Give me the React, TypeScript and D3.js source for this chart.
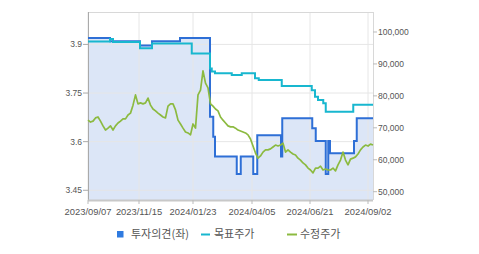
import React from "react";
import * as d3 from "d3";

// sample index axis (0..114)
const N_LAST = 114;
const X_TICK_LABELS = ["2023/09/07", "2023/11/15", "2024/01/23", "2024/04/05", "2024/06/21", "2024/09/02"];
const X_TICK_POS = [0, 20.4, 42, 65.6, 88.8, 112];

const LEFT_TICKS = [3.45, 3.6, 3.75, 3.9];
const RIGHT_TICKS = [50000, 60000, 70000, 80000, 90000, 100000];

// 투자의견 (left axis) change points [index, value]
const OPINION: [number, number][] = [
  [0, 3.92], [8.8, 3.91], [20.8, 3.897], [25.6, 3.91], [36.8, 3.92],
  [48.8, 3.677], [50.1, 3.615], [50.8, 3.554], [59.5, 3.5], [61.1, 3.554],
  [66.1, 3.5], [67.7, 3.62], [77.2, 3.554], [77.7, 3.672], [89.7, 3.641],
  [91.1, 3.602], [95.1, 3.5], [96.1, 3.602], [96.8, 3.564], [106.4, 3.602],
  [107.5, 3.672],
];

// 목표주가 (right axis) change points [index, value]
const TARGET: [number, number][] = [
  [0, 97000], [8.8, 97800], [10, 96900], [20.8, 94900], [25.6, 96400],
  [41.5, 93300], [48.8, 88600], [49.5, 87600], [50.8, 87100], [57.5, 86500],
  [61.5, 87100], [66.8, 85500], [68.3, 85000], [77.5, 83100], [89.5, 81800],
  [90.8, 79700], [92, 78700], [94.1, 77700], [95.1, 75000], [106.1, 77200],
];

// 수정주가 (right axis), one value per sample index
const PRICES = [
  72400, 71800, 72100, 73100, 73400, 72100, 70600, 69300, 69900, 70600,
  69300, 70600, 71500, 72100, 72800, 72800, 74000, 74600, 77100, 80300,
  77500, 77800, 77500, 77800, 79300, 77100, 75900, 75300, 74600, 74000,
  73400, 73100, 76800, 77500, 77500, 75600, 72400, 71200, 69900, 68700,
  68400, 67800, 71200, 69900, 80300, 81800, 87800, 84000, 82500, 77500,
  76800, 75900, 75300, 73400, 72400, 71500, 70600, 70300, 70300, 69900,
  69300, 69000, 68700, 68400, 67800, 66500, 64300, 62100, 60500, 61200,
  62400, 63100, 63100, 63400, 64000, 64600, 64300, 64600, 65200, 62400,
  63100, 62400, 61800, 61500, 60500, 59900, 59000, 58400, 57400, 56800,
  55900, 57400, 57400, 58000, 56800, 57100, 56800, 56800, 57400, 56500,
  58400, 59900, 62400, 59900, 58400, 60200, 60500, 60900, 61800, 63100,
  64000, 64600, 64300, 64900, 64600,
];

const LEGEND = ["투자의견(좌)", "목표주가", "수정주가"];

const W = 479, H = 254;
const L = 88, R = 373, T = 12, B = 200;

const C_BLUE = "#2e6fd6";
const C_FILL = "#dce6f7";
const C_CYAN = "#18b7cf";
const C_GREEN = "#8cba40";
const C_GRID = "#e6e6e6";
const C_TEXT = "#555";

export default function App() {
  const x = d3.scaleLinear().domain([0, N_LAST]).range([L, R]);
  const yL = d3.scaleLinear().domain([3.42, 4.0]).range([B, T]);
  const yR = d3.scaleLinear().domain([47400, 106260]).range([B, T]);

  const opPts: [number, number][] = [...OPINION, [N_LAST, OPINION[OPINION.length - 1][1]]];
  const tgPts: [number, number][] = [...TARGET, [N_LAST, TARGET[TARGET.length - 1][1]]];

  const opLine = d3.line<[number, number]>().x(d => x(d[0])).y(d => yL(d[1])).curve(d3.curveStepAfter)(opPts) || "";
  const opArea = d3.area<[number, number]>().x(d => x(d[0])).y0(B).y1(d => yL(d[1])).curve(d3.curveStepAfter)(opPts) || "";
  const tgLine = d3.line<[number, number]>().x(d => x(d[0])).y(d => yR(d[1])).curve(d3.curveStepAfter)(tgPts) || "";
  const prLine = d3.line<number>().x((_, i) => x(i)).y(d => yR(d))(PRICES) || "";

  const fmt = d3.format(",");
  const font = "'Liberation Sans', Arial, sans-serif";
  const kfont = "'Noto Sans CJK KR', 'Noto Sans', sans-serif";

  return (
    <svg width={W} height={H} style={{ position: "absolute", left: 0, top: 0, background: "#fff" }}>
      <path d={opArea} fill={C_FILL} />
      {/* grid */}
      {LEFT_TICKS.map(t => (
        <line key={"hg" + t} x1={L} x2={R} y1={yL(t)} y2={yL(t)} stroke={C_GRID} strokeWidth={1} />
      ))}
      {X_TICK_POS.map((p, i) => (
        <line key={"vg" + i} x1={x(p)} x2={x(p)} y1={T} y2={B} stroke={C_GRID} strokeWidth={1} />
      ))}
      {/* frame */}
      <line x1={L} x2={R} y1={T + 0.5} y2={T + 0.5} stroke="#d8d8d8" />
      <line x1={R + 0.5} x2={R + 0.5} y1={T} y2={B} stroke="#d8d8d8" />
      <line x1={L + 0.5} x2={L + 0.5} y1={T} y2={B} stroke="#aaa" />
      <line x1={L} x2={R} y1={B + 0.5} y2={B + 0.5} stroke="#c8c8c8" strokeWidth={2} />
      {/* series */}
      <path d={opLine} fill="none" stroke={C_BLUE} strokeWidth={2} />
      <path d={tgLine} fill="none" stroke={C_CYAN} strokeWidth={2} />
      <path d={prLine} fill="none" stroke={C_GREEN} strokeWidth={1.7} strokeLinejoin="round" />
      {/* left axis */}
      {LEFT_TICKS.map(t => (
        <g key={"lt" + t}>
          <line x1={L - 5} x2={L} y1={yL(t)} y2={yL(t)} stroke="#aaa" />
          <text x={L - 6} y={yL(t)} dy="0.35em" textAnchor="end" fontSize={8.5} fill={C_TEXT} fontFamily={font}>{String(t)}</text>
        </g>
      ))}
      {/* right axis */}
      {RIGHT_TICKS.map(t => (
        <g key={"rt" + t}>
          <line x1={R} x2={R + 4} y1={yR(t)} y2={yR(t)} stroke="#bbb" />
          <text x={R + 5} y={yR(t)} dy="0.35em" textAnchor="start" fontSize={8.5} fill={C_TEXT} fontFamily={font}>{fmt(t)}</text>
        </g>
      ))}
      {/* x axis */}
      {X_TICK_POS.map((p, i) => (
        <g key={"xt" + i}>
          <line x1={x(p)} x2={x(p)} y1={B} y2={B + 4} stroke="#bbb" />
          <text x={x(p)} y={212} dy="0.35em" textAnchor="middle" fontSize={9.4} fill={C_TEXT} fontFamily={font}>{X_TICK_LABELS[i]}</text>
        </g>
      ))}
      {/* legend */}
      <rect x={117} y={231} width={6.5} height={6.5} fill="#2f7be0" />
      <text x={131} y={234.5} dy="0.35em" fontSize={11} fill={C_TEXT} fontFamily={kfont}>{LEGEND[0]}</text>
      <line x1={201} x2={210} y1={234.5} y2={234.5} stroke={C_CYAN} strokeWidth={2} />
      <text x={214} y={234.5} dy="0.35em" fontSize={11} fill={C_TEXT} fontFamily={kfont}>{LEGEND[1]}</text>
      <line x1={287} x2={297} y1={234.5} y2={234.5} stroke={C_GREEN} strokeWidth={2} />
      <text x={300} y={234.5} dy="0.35em" fontSize={11} fill={C_TEXT} fontFamily={kfont}>{LEGEND[2]}</text>
    </svg>
  );
}
